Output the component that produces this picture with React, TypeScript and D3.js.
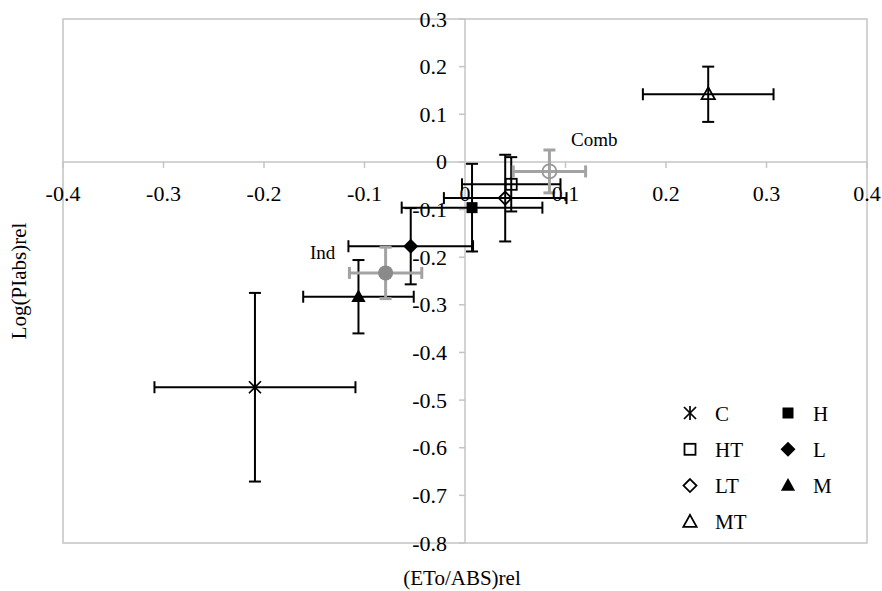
import * as d3 from "d3";

// series
const names = ["C", "H", "HT", "L", "LT", "M", "MT", "Ind", "Comb"];
const xVals = [-0.209, 0.007, 0.046, -0.054, 0.04, -0.106, 0.242, -0.079, 0.084];
const yVals = [-0.473, -0.096, -0.047, -0.177, -0.076, -0.283, 0.142, -0.233, -0.02];
const xErr = [0.1, 0.07, 0.049, 0.062, 0.061, 0.055, 0.065, 0.036, 0.036];
const yErr = [0.198, 0.092, 0.057, 0.08, 0.091, 0.077, 0.058, 0.054, 0.045];

const xTicks = [-0.4, -0.3, -0.2, -0.1, 0, 0.1, 0.2, 0.3, 0.4];
const yTicks = [0.3, 0.2, 0.1, 0, -0.1, -0.2, -0.3, -0.4, -0.5, -0.6, -0.7, -0.8];

const legendRows = [
  ["C", "H"],
  ["HT", "L"],
  ["LT", "M"],
  ["MT"],
];

const FONT = "Liberation Serif, Times New Roman, serif";
const AXIS_GRAY = "#c4c4c4";
const txt = { fontFamily: FONT };

const diamond = (r: number) => `M0,${-r}L${r},0L0,${r}L${-r},0Z`;
const triangle = (r: number) => `M0,${-r}L${r * 0.95},${r * 0.7}L${-r * 0.95},${r * 0.7}Z`;

function Marker({ name, cx, cy }: { name: string; cx: number; cy: number }) {
  const t = `translate(${cx},${cy})`;
  switch (name) {
    case "C":
      return (
        <g transform={t} stroke="#000" strokeWidth={1.7}>
          <line x1={-6} y1={-6} x2={6} y2={6} />
          <line x1={-6} y1={6} x2={6} y2={-6} />
          <line x1={0} y1={-7} x2={0} y2={7} />
        </g>
      );
    case "H":
      return <rect x={cx - 5.5} y={cy - 5.5} width={11} height={11} fill="#000" />;
    case "HT":
      return <rect x={cx - 5.5} y={cy - 5.5} width={11} height={11} fill="none" stroke="#000" strokeWidth={1.8} />;
    case "L":
      return <path d={diamond(7.5)} transform={t} fill="#000" />;
    case "LT":
      return <path d={diamond(6.5)} transform={t} fill="none" stroke="#000" strokeWidth={1.8} />;
    case "M":
      return <path d={triangle(7.5)} transform={t} fill="#000" />;
    case "MT":
      return <path d={triangle(7)} transform={t} fill="none" stroke="#000" strokeWidth={1.8} />;
    case "Ind":
      return <circle cx={cx} cy={cy} r={7.5} fill="#8a8a8a" />;
    case "Comb":
      return <circle cx={cx} cy={cy} r={7} fill="none" stroke="#999" strokeWidth={1.8} />;
    default:
      return null;
  }
}

export default function App() {
  const width = 882;
  const height = 591;
  const x = d3.scaleLinear().domain([-0.4, 0.4]).range([63, 867]);
  const y = d3.scaleLinear().domain([0.3, -0.8]).range([19, 543]);
  const fmt = (v: number) => (Math.abs(v) < 1e-9 ? "0" : d3.format(".1f")(v).replace("−", "-"));

  const cap = 6;

  return (
    <svg width={width} height={height} style={{ position: "absolute", left: 0, top: 0, background: "#fff" }}>
      <rect x={0} y={0} width={width} height={height} fill="#fff" />
      {/* plot frame */}
      <rect x={x(-0.4)} y={y(0.3)} width={x(0.4) - x(-0.4)} height={y(-0.8) - y(0.3)} fill="none" stroke={AXIS_GRAY} strokeWidth={1.5} />
      {/* axes through origin */}
      <line x1={x(-0.4)} x2={x(0.4)} y1={y(0)} y2={y(0)} stroke={AXIS_GRAY} strokeWidth={1.5} />
      <line x1={x(0)} x2={x(0)} y1={y(0.3)} y2={y(-0.8)} stroke={AXIS_GRAY} strokeWidth={1.5} />
      {xTicks.map((v) => (
        <line key={"xt" + v} x1={x(v)} x2={x(v)} y1={y(0)} y2={y(0) + 6} stroke={AXIS_GRAY} strokeWidth={1.5} />
      ))}
      {yTicks.map((v) => (
        <line key={"yt" + v} x1={x(0) - 6} x2={x(0)} y1={y(v)} y2={y(v)} stroke={AXIS_GRAY} strokeWidth={1.5} />
      ))}

      {/* error bars + markers */}
      {names.map((n, i) => {
        const gray = n === "Ind" || n === "Comb";
        const col = gray ? "#a3a3a3" : "#000";
        const sw = gray ? 3 : 2;
        const cx = x(xVals[i]);
        const cy = y(yVals[i]);
        const x0 = x(xVals[i] - xErr[i]);
        const x1 = x(xVals[i] + xErr[i]);
        const y0 = y(yVals[i] + yErr[i]);
        const y1 = y(yVals[i] - yErr[i]);
        return (
          <g key={n}>
            <g stroke={col} strokeWidth={sw} fill="none">
              <line x1={x0} x2={x1} y1={cy} y2={cy} />
              <line x1={x0} x2={x0} y1={cy - cap} y2={cy + cap} />
              <line x1={x1} x2={x1} y1={cy - cap} y2={cy + cap} />
              <line x1={cx} x2={cx} y1={y0} y2={y1} />
              <line x1={cx - cap} x2={cx + cap} y1={y0} y2={y0} />
              <line x1={cx - cap} x2={cx + cap} y1={y1} y2={y1} />
            </g>
            <Marker name={n} cx={cx} cy={cy} />
          </g>
        );
      })}

      {/* tick labels */}
      {xTicks.map((v) => (
        <text key={"xl" + v} x={x(v)} y={y(0) + 39} textAnchor="middle" fontSize={22} fill="#000" style={txt}>
          {fmt(v)}
        </text>
      ))}
      {yTicks.map((v) => (
        <text key={"yl" + v} x={x(0) - 18} y={y(v) + 7.5} textAnchor="end" fontSize={22} fill="#000" style={txt}>
          {fmt(v)}
        </text>
      ))}

      {/* group labels */}
      <text x={571} y={146} fontSize={19} fill="#000" style={txt}>Comb</text>
      <text x={310} y={259} fontSize={19} fill="#000" style={txt}>Ind</text>

      {/* legend */}
      {legendRows.map((row, r) =>
        row.map((n, c) => {
          const sx = c === 0 ? 690 : 788;
          const sy = 413 + r * 36.3;
          return (
            <g key={"lg" + n}>
              <Marker name={n} cx={sx} cy={sy} />
              <text x={sx + 25} y={sy + 7.5} fontSize={21} fill="#000" style={txt}>
                {n}
              </text>
            </g>
          );
        })
      )}

      {/* axis titles */}
      <text x={462} y={585} textAnchor="middle" fontSize={21} fill="#000" style={txt}>
        (ETo/ABS)rel
      </text>
      <text transform={`translate(26,${(y(0.3) + y(-0.8)) / 2}) rotate(-90)`} textAnchor="middle" fontSize={21} fill="#000" style={txt}>
        Log(PIabs)rel
      </text>
    </svg>
  );
}
